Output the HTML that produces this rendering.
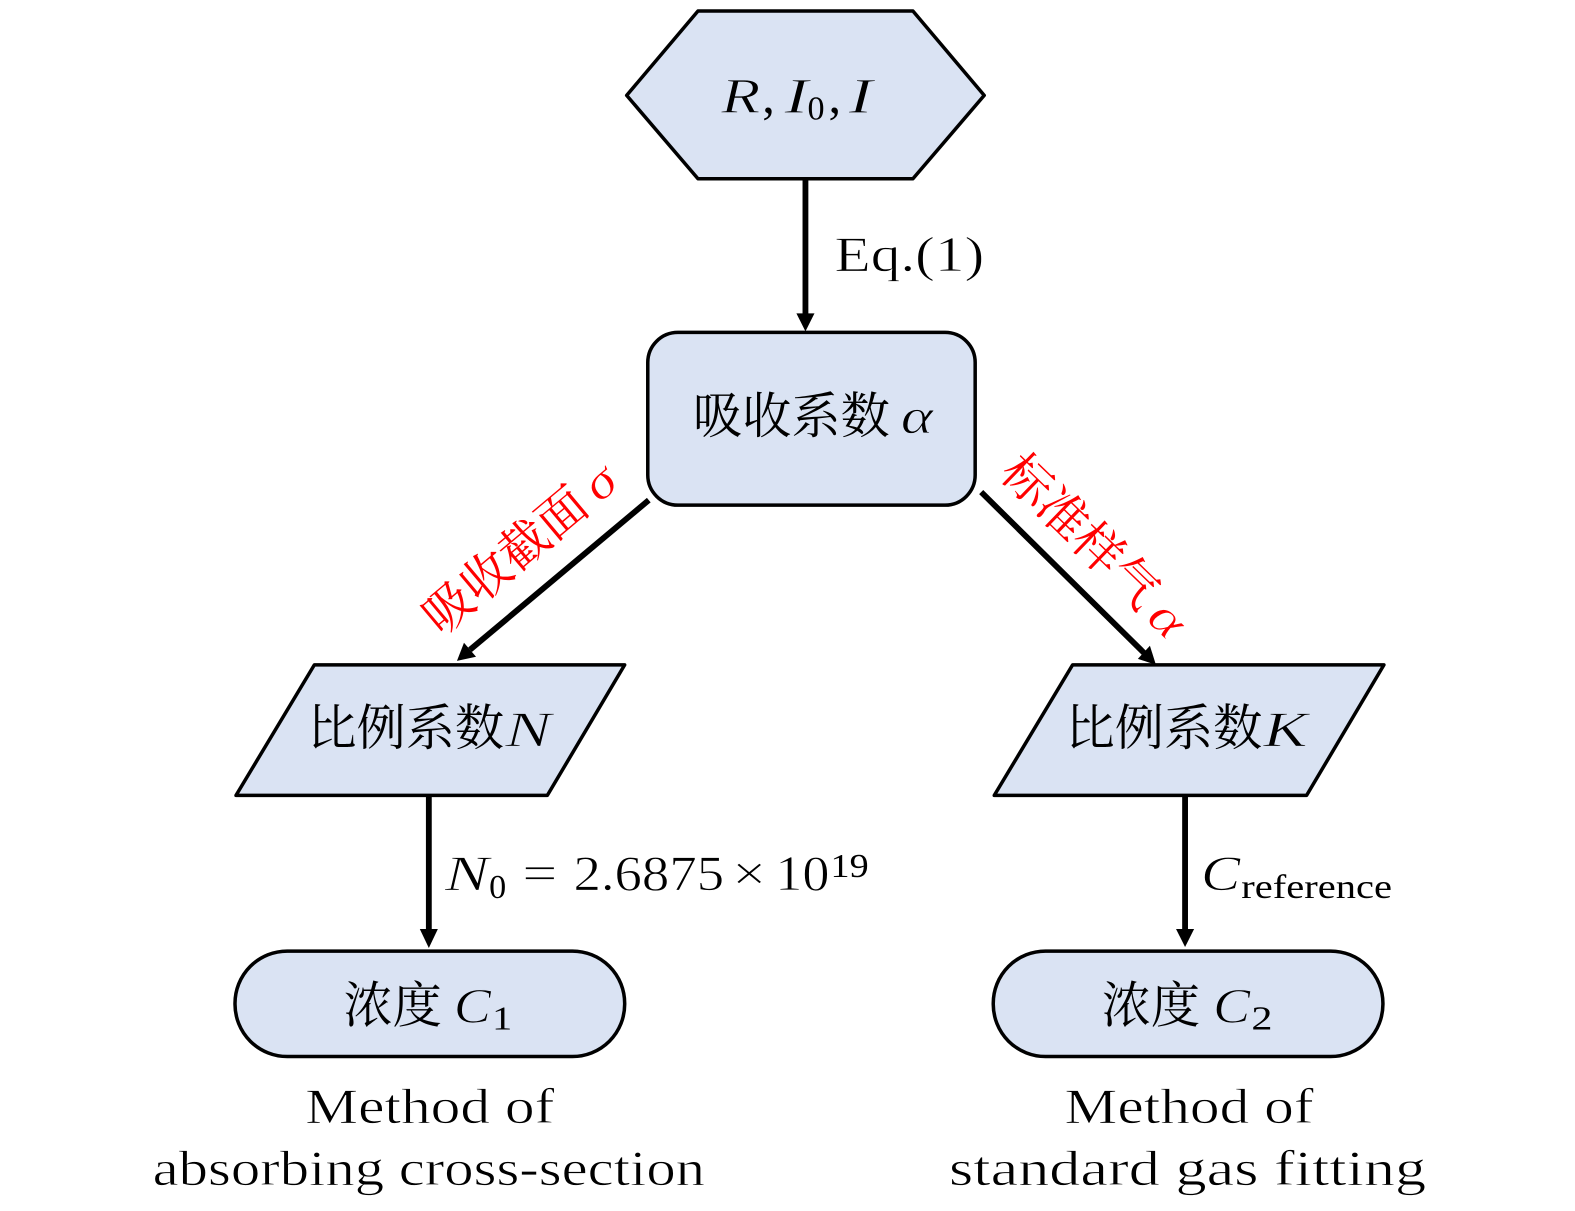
<!DOCTYPE html>
<html>
<head>
<meta charset="utf-8">
<style>
html,body{margin:0;padding:0;background:#fff;}
svg{display:block;}
.s{fill:#dae3f3;stroke:#000;stroke-width:3.5;stroke-linejoin:round;}
.l{stroke:#000;stroke-width:5.8;fill:none;}
text{font-family:"Liberation Serif","Noto Serif CJK SC",serif;fill:#000;}
.cjk{font-family:"Noto Serif CJK SC","Noto Sans CJK SC",serif;font-size:49px;}
.m{font-style:italic;font-size:50px;}
.n{font-size:50px;}
.b{font-size:34px;}
.t{font-size:49px;}
.r{fill:#f00;}
.f{stroke:#dae3f3;stroke-width:0.8;}
.w{stroke:#fff;stroke-width:0.7;}
</style>
</head>
<body>
<svg width="1575" height="1211" viewBox="0 0 1575 1211" xmlns="http://www.w3.org/2000/svg">
<g transform="scale(1.0043)">
<polygon class="s" points="695,11 909,11 980,95 909,178 695,178 624,95"/>
<rect class="s" x="645" y="331" width="326" height="172" rx="30" ry="30"/>
<polygon class="s" points="313,662 622,662 545,792 235,792"/>
<polygon class="s" points="1068,662 1378,662 1301,792 990,792"/>
<rect class="s" x="234" y="947" width="388" height="105" rx="52" ry="52"/>
<rect class="s" x="989" y="947" width="388" height="105" rx="52" ry="52"/>

<line class="l" x1="802" y1="179" x2="802" y2="314"/>
<polygon points="793,312 811,312 802,330"/>
<line class="l" x1="646" y1="498" x2="468" y2="647"/>
<polygon points="462,640 474,654 455,658"/>
<line class="l" x1="977" y1="490" x2="1139" y2="650"/>
<polygon points="1133,656 1145,643 1151,662"/>
<line class="l" x1="427" y1="793" x2="427" y2="928"/>
<polygon points="418,925 436,925 427,944"/>
<line class="l" x1="1180" y1="793" x2="1180" y2="928"/>
<polygon points="1171,925 1189,925 1180,943"/>

<text x="718" y="112" class="m f" textLength="39" lengthAdjust="spacingAndGlyphs">R</text>
<text x="759" y="112" class="n">,</text>
<text x="781" y="112" class="m f" textLength="24" lengthAdjust="spacingAndGlyphs">I</text>
<text x="804" y="119" class="b">0</text>
<text x="825" y="112" class="n">,</text>
<text x="845" y="112" class="m f" textLength="24" lengthAdjust="spacingAndGlyphs">I</text>

<text x="831" y="270" class="n w" textLength="149" lengthAdjust="spacingAndGlyphs">Eq.(1)</text>

<text x="690" y="431" class="cjk">吸收系数</text>
<text x="897" y="431" class="m f" textLength="32" lengthAdjust="spacingAndGlyphs">α</text>

<text x="306" y="742" class="cjk">比例系数</text>
<text x="503" y="743" class="m f" textLength="46" lengthAdjust="spacingAndGlyphs">N</text>
<text x="1061" y="742" class="cjk">比例系数</text>
<text x="1258" y="743" class="m f" textLength="44" lengthAdjust="spacingAndGlyphs">K</text>

<text x="443" y="886" class="m w" textLength="44" lengthAdjust="spacingAndGlyphs">N</text>
<text x="487" y="894" class="b">0</text>
<text x="520" y="886" class="n w" textLength="35" lengthAdjust="spacingAndGlyphs">=</text>
<text x="571" y="886" class="n w" textLength="150" lengthAdjust="spacingAndGlyphs">2.6875</text>
<text x="729" y="886" class="n w" textLength="34" lengthAdjust="spacingAndGlyphs">×</text>
<text x="772" y="886" class="n w" textLength="54" lengthAdjust="spacingAndGlyphs">10</text>
<text x="827" y="873" class="b" textLength="38" lengthAdjust="spacingAndGlyphs">19</text>

<text x="1196" y="886" class="m w" textLength="39" lengthAdjust="spacingAndGlyphs">C</text>
<text x="1236" y="894" class="b" textLength="150" lengthAdjust="spacingAndGlyphs">reference</text>

<text x="342" y="1018" class="cjk">浓度</text>
<text x="452" y="1018" class="m f" textLength="37" lengthAdjust="spacingAndGlyphs">C</text>
<text x="490" y="1025" class="b" textLength="20" lengthAdjust="spacingAndGlyphs">1</text>
<text x="1097" y="1018" class="cjk">浓度</text>
<text x="1208" y="1018" class="m f" textLength="37" lengthAdjust="spacingAndGlyphs">C</text>
<text x="1246" y="1025" class="b" textLength="21" lengthAdjust="spacingAndGlyphs">2</text>

<text x="304" y="1118" class="t w" textLength="248" lengthAdjust="spacingAndGlyphs">Method of</text>
<text x="152" y="1180" class="t w" textLength="550" lengthAdjust="spacingAndGlyphs">absorbing cross-section</text>
<text x="1060" y="1118" class="t w" textLength="248" lengthAdjust="spacingAndGlyphs">Method of</text>
<text x="945" y="1180" class="t w" textLength="475" lengthAdjust="spacingAndGlyphs">standard gas fitting</text>

<g transform="translate(439,634) rotate(-40)">
<text x="0" y="0" class="cjk r">吸收截面</text>
<text x="206" y="0" class="m r w" textLength="28" lengthAdjust="spacingAndGlyphs">σ</text>
</g>
<g transform="translate(994,473) rotate(44)">
<text x="0" y="0" class="cjk r">标准样气</text>
<text x="205" y="2" class="m r w" textLength="32" lengthAdjust="spacingAndGlyphs">α</text>
</g>
</g>
</svg>
</body>
</html>
